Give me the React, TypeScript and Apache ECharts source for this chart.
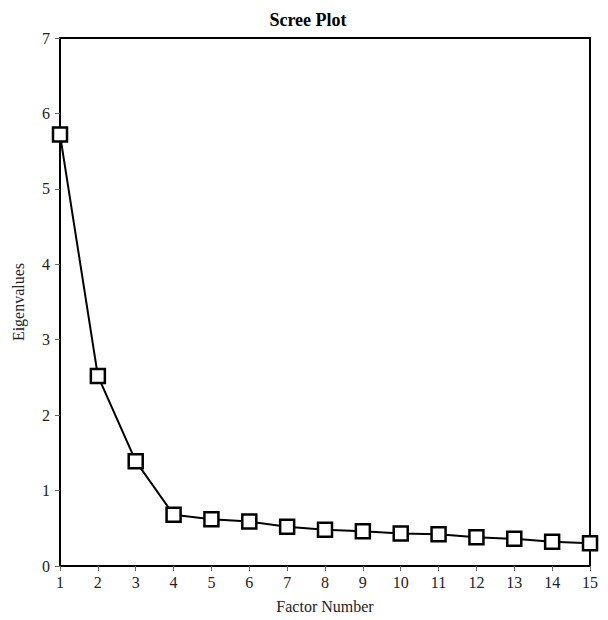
import React, { useEffect, useRef } from "react";
import * as echarts from "echarts";

const factors = [1, 2, 3, 4, 5, 6, 7, 8, 9, 10, 11, 12, 13, 14, 15];
const eigenvalues = [5.72, 2.52, 1.39, 0.68, 0.62, 0.59, 0.52, 0.48, 0.46, 0.43, 0.42, 0.38, 0.36, 0.32, 0.3];
const titleText = "Scree Plot";
const xName = "Factor Number";
const yName = "Eigenvalues";

const FONT = "'Liberation Serif', 'DejaVu Serif', serif";

export default function App() {
  const ref = useRef<HTMLDivElement>(null);
  useEffect(() => {
    if (!ref.current) return;
    const chart = echarts.init(ref.current, null, { renderer: "svg" });
    chart.setOption({
      animation: false,
      backgroundColor: "#fff",
      title: {
        text: titleText,
        left: "center",
        top: -2,
        textStyle: { fontFamily: FONT, fontSize: 18, fontWeight: "bold", color: "#000" },
      },
      grid: {
        left: 52,
        right: 18,
        top: 30,
        bottom: 54,
        outerBoundsMode: "none",
        containLabel: false,
        show: true,
        borderColor: "#000",
        borderWidth: 2,
        backgroundColor: "transparent",
      },
      xAxis: {
        type: "value",
        min: 1,
        max: 15,
        interval: 1,
        name: xName,
        nameLocation: "middle",
        nameGap: 32,
        nameTextStyle: { fontFamily: FONT, fontSize: 16, color: "#222" },
        axisLine: { show: true, lineStyle: { color: "#000", width: 2 } },
        axisTick: { show: true, length: 5, lineStyle: { color: "#666" } },
        axisLabel: { fontFamily: FONT, fontSize: 16, color: "#222", margin: 8 },
        splitLine: { show: false },
      },
      yAxis: {
        type: "value",
        min: 0,
        max: 7,
        interval: 1,
        name: yName,
        nameLocation: "middle",
        nameGap: 34,
        nameTextStyle: { fontFamily: FONT, fontSize: 16, color: "#222" },
        axisLine: { show: true, lineStyle: { color: "#000", width: 2 } },
        axisTick: { show: true, length: 5, lineStyle: { color: "#666" } },
        axisLabel: { fontFamily: FONT, fontSize: 16, color: "#222", margin: 10 },
        splitLine: { show: false },
      },
      series: [
        {
          type: "line",
          data: factors.map((f, i) => [f, eigenvalues[i]]),
          clip: false,
          symbol: "rect",
          symbolSize: 14,
          lineStyle: { color: "#000", width: 2 },
          itemStyle: { color: "#fff", borderColor: "#000", borderWidth: 2.5 },
          z: 5,
        },
      ],
    });
    return () => chart.dispose();
  }, []);
  return <div ref={ref} style={{ width: 600, height: 612 }} />;
}
